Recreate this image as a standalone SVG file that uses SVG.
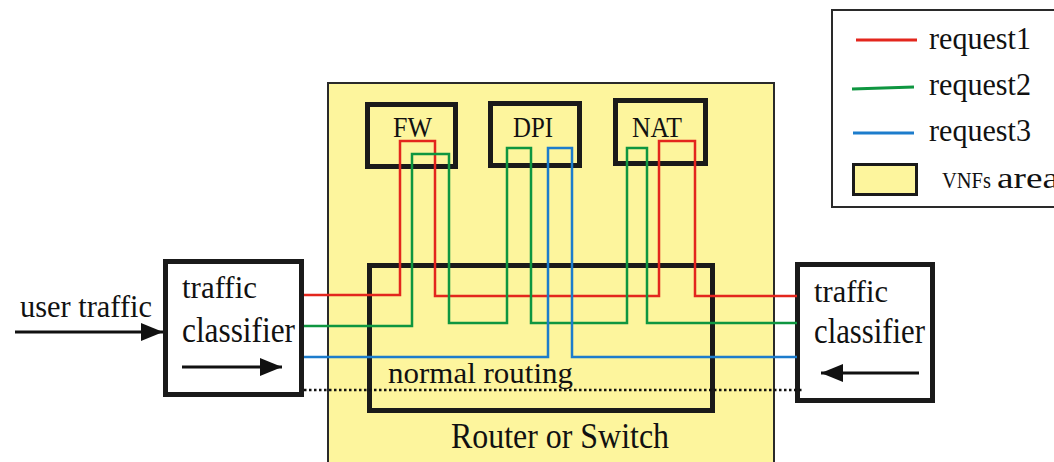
<svg xmlns="http://www.w3.org/2000/svg" width="1054" height="462" viewBox="0 0 1054 462">
<style>
.box{fill:none;stroke:#1a1a1a;stroke-width:5}
.wbox{fill:#ffffff;stroke:#1a1a1a;stroke-width:5}
.r{fill:none;stroke:#e3261d;stroke-width:2.5}
.g{fill:none;stroke:#0e9640;stroke-width:2.5}
.b{fill:none;stroke:#1c7ccc;stroke-width:2.5}
.arr{stroke:#111;stroke-width:3;fill:none;marker-end:url(#ah)}
</style>
<defs>
<marker id="ah" markerUnits="userSpaceOnUse" markerWidth="22" markerHeight="18" refX="22" refY="9" orient="auto">
<path d="M0,0 L22,9 L0,18 z" fill="#111"/>
</marker>
</defs>
<rect width="1054" height="462" fill="#ffffff"/>
<g font-family="Liberation Serif, Times New Roman, serif" fill="#111">
<g id="router">
<rect x="328" y="83" width="446" height="390" fill="#fdf59d" stroke="#2a2a2a" stroke-width="2"/>
<text x="451" y="448" font-size="35" textLength="218" lengthAdjust="spacingAndGlyphs">Router or Switch</text>
</g>
<g id="normal-routing">
<rect class="box" x="369.5" y="265.5" width="343" height="145"/>
<text x="388" y="383" font-size="30" textLength="185" lengthAdjust="spacingAndGlyphs">normal routing</text>
</g>
<g id="fw">
<rect class="box" x="367.5" y="104.5" width="88" height="62"/>
<text x="393" y="137" font-size="29" textLength="39" lengthAdjust="spacingAndGlyphs">FW</text>
</g>
<g id="dpi">
<rect class="box" x="490.5" y="103.5" width="89" height="62"/>
<text x="513" y="137" font-size="29" textLength="40" lengthAdjust="spacingAndGlyphs">DPI</text>
</g>
<g id="nat">
<rect class="box" x="615.5" y="100.5" width="90" height="63"/>
<text x="632" y="137" font-size="29" textLength="50" lengthAdjust="spacingAndGlyphs">NAT</text>
</g>
<g id="classifier-left">
<rect class="wbox" x="165.5" y="261.5" width="136" height="133"/>
<text x="182" y="298" font-size="32" textLength="75" lengthAdjust="spacingAndGlyphs">traffic</text>
<text x="182" y="342" font-size="36" textLength="113" lengthAdjust="spacingAndGlyphs">classifier</text>
<line class="arr" x1="182" y1="367" x2="282" y2="367"/>
</g>
<g id="classifier-right">
<rect class="wbox" x="797.5" y="264.5" width="135" height="136"/>
<text x="814" y="302" font-size="32" textLength="74" lengthAdjust="spacingAndGlyphs">traffic</text>
<text x="814" y="343" font-size="36" textLength="111" lengthAdjust="spacingAndGlyphs">classifier</text>
<line class="arr" x1="919" y1="373" x2="821" y2="373"/>
</g>
<g id="user-traffic">
<text x="20" y="317" font-size="32" textLength="132" lengthAdjust="spacingAndGlyphs">user traffic</text>
<line class="arr" x1="15" y1="332" x2="163" y2="332"/>
</g>
<g id="connectors">
<path class="r" d="M304,295 H400 V141 H435 V296 H659 V141 H695 V296 H797"/>
<path class="g" d="M304,326 H412 V154 H449 V323 H507 V148 H531 V323 H627 V148 H647 V323 H797"/>
<path class="b" d="M304,357 H548 V148 H572 V357 H797"/>
<line x1="304" y1="390" x2="803" y2="390" stroke="#111" stroke-width="2.5" stroke-dasharray="2.5,2.5"/>
</g>
<g id="legend">
<rect x="832" y="10" width="240" height="197" fill="#ffffff" stroke="#2a2a2a" stroke-width="2"/>
<line x1="856" y1="40" x2="917" y2="40" stroke="#e3261d" stroke-width="3"/>
<line x1="852" y1="89" x2="914" y2="87" stroke="#0e9640" stroke-width="3"/>
<line x1="853" y1="133" x2="914" y2="133" stroke="#1c7ccc" stroke-width="3"/>
<rect x="853.5" y="164.5" width="63" height="30" fill="#fdf59d" stroke="#1a1a1a" stroke-width="3"/>
<text x="929" y="49" font-size="31" textLength="102" lengthAdjust="spacingAndGlyphs">request1</text>
<text x="929" y="95" font-size="31" textLength="102" lengthAdjust="spacingAndGlyphs">request2</text>
<text x="929" y="141" font-size="31" textLength="102" lengthAdjust="spacingAndGlyphs">request3</text>
<text x="942" y="188" font-size="24" textLength="49" lengthAdjust="spacingAndGlyphs">VNFs</text>
<text x="997" y="188" font-size="30" textLength="62" lengthAdjust="spacingAndGlyphs">area</text>
</g>
</g>
</svg>
